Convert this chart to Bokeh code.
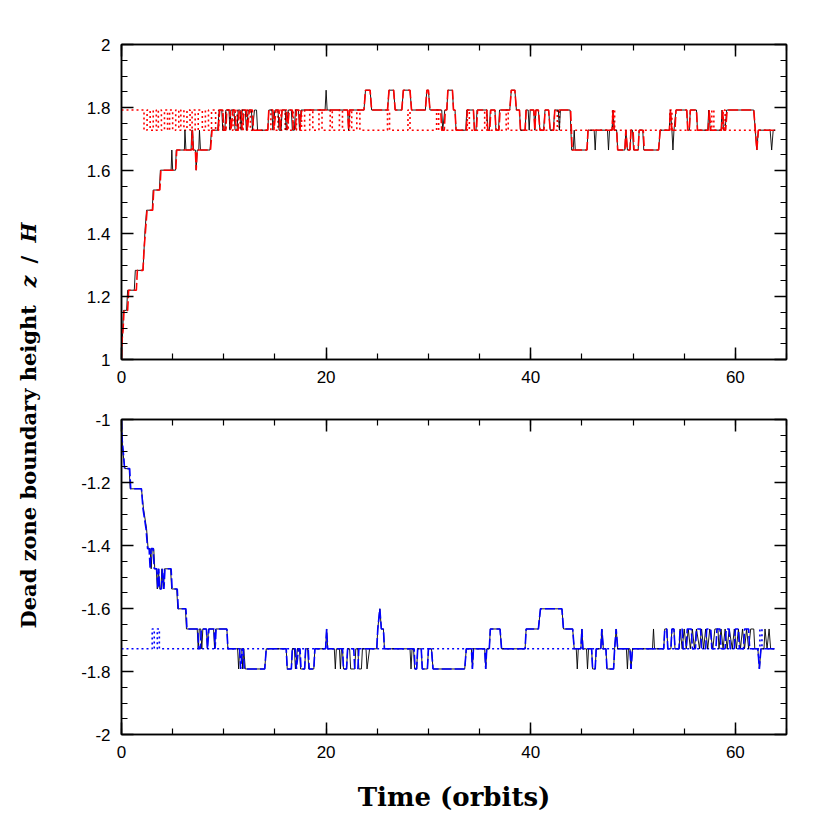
import math
from bokeh.plotting import figure
from bokeh.models import Range1d, LinearAxis, SingleIntervalTicker, CustomJSTickFormatter
from bokeh.layouts import row, column
from bokeh.embed import file_html
from bokeh.resources import INLINE
from bokeh.core.properties import value

# ---------------- data (time in orbits, height z/H) ----------------
top_black = [
    (0.0, 1.0), (0.2, 1.156), (0.5, 1.156), (0.6, 1.22), (1.25, 1.22), (1.35, 1.283), (2.1, 1.283),
    (2.2, 1.347), (2.3, 1.41), (2.45, 1.474), (3.0, 1.474), (3.1, 1.538), (3.7, 1.538), (3.8, 1.601),
    (4.85, 1.601), (4.92, 1.665), (5.0, 1.601), (5.28, 1.601), (5.35, 1.665), (6.15, 1.665), (6.2, 1.728),
    (6.3, 1.665), (6.8, 1.665), (6.87, 1.728), (6.95, 1.728), (7.05, 1.665), (7.22, 1.665), (7.3, 1.601),
    (7.4, 1.665), (7.55, 1.665), (7.62, 1.728), (7.72, 1.665), (8.65, 1.665), (8.8, 1.728), (9.4, 1.728),
    (9.55, 1.792), (9.8, 1.792), (9.9, 1.728), (10.1, 1.728), (10.2, 1.792), (10.5, 1.792), (10.6, 1.728),
    (10.7, 1.792), (11.0, 1.792), (11.1, 1.728), (11.3, 1.728), (11.4, 1.792), (11.6, 1.792), (11.7, 1.728),
    (11.8, 1.792), (12.1, 1.792), (12.2, 1.728), (12.4, 1.792), (12.7, 1.792), (12.8, 1.728), (13.0, 1.792),
    (13.2, 1.792), (13.3, 1.728), (14.3, 1.728), (14.4, 1.792), (14.7, 1.792), (14.8, 1.728), (15.0, 1.792),
    (15.3, 1.792), (15.4, 1.728), (15.6, 1.728), (15.7, 1.792), (16.0, 1.792), (16.1, 1.728), (16.3, 1.792),
    (16.6, 1.792), (16.7, 1.728), (16.9, 1.728), (17.0, 1.792), (17.3, 1.792), (17.4, 1.728), (17.55, 1.792),
    (19.9, 1.792), (20.0, 1.855), (20.1, 1.792), (22.1, 1.792), (22.2, 1.728), (22.3, 1.792), (23.7, 1.792),
    (23.85, 1.855), (24.3, 1.855), (24.45, 1.792), (26.0, 1.792), (26.15, 1.855), (26.6, 1.855), (26.75, 1.792),
    (27.4, 1.792), (27.55, 1.855), (28.2, 1.855), (28.35, 1.792), (29.7, 1.792), (29.85, 1.855), (30.0, 1.855),
    (30.15, 1.792), (31.3, 1.792), (31.4, 1.728), (31.6, 1.792), (31.8, 1.792), (31.9, 1.855), (32.35, 1.855),
    (32.45, 1.792), (32.6, 1.792), (32.7, 1.728), (33.65, 1.728), (33.75, 1.792), (34.4, 1.792), (34.5, 1.728),
    (34.65, 1.728), (34.75, 1.792), (35.7, 1.792), (35.8, 1.728), (35.95, 1.728), (36.05, 1.792), (36.5, 1.792),
    (36.6, 1.728), (36.85, 1.728), (36.95, 1.792), (37.95, 1.792), (38.1, 1.855), (38.45, 1.855), (38.6, 1.792),
    (38.9, 1.792), (39.0, 1.728), (39.45, 1.728), (39.55, 1.792), (39.75, 1.792), (39.85, 1.728), (39.95, 1.792),
    (40.3, 1.792), (40.4, 1.728), (40.5, 1.792), (40.75, 1.792), (40.9, 1.728), (41.25, 1.728), (41.4, 1.792),
    (41.75, 1.792), (41.9, 1.728), (42.2, 1.728), (42.35, 1.792), (42.7, 1.792), (42.8, 1.728), (42.9, 1.792),
    (43.85, 1.792), (44.0, 1.665), (44.15, 1.665), (44.25, 1.728), (44.35, 1.665), (45.5, 1.665), (45.6, 1.728),
    (46.2, 1.728), (46.3, 1.665), (46.4, 1.728), (47.5, 1.728), (47.6, 1.665), (47.7, 1.728), (47.95, 1.728),
    (48.05, 1.792), (48.15, 1.728), (48.4, 1.728), (48.5, 1.665), (49.2, 1.665), (49.3, 1.728), (49.45, 1.665),
    (49.7, 1.665), (49.8, 1.728), (49.95, 1.728), (50.05, 1.665), (50.5, 1.665), (50.6, 1.728), (50.95, 1.728),
    (51.05, 1.665), (52.5, 1.665), (52.65, 1.728), (53.55, 1.728), (53.65, 1.792), (53.8, 1.728), (53.9, 1.665),
    (54.0, 1.728), (54.2, 1.792), (55.25, 1.792), (55.35, 1.728), (55.5, 1.728), (55.6, 1.792), (56.2, 1.792),
    (56.3, 1.728), (57.3, 1.728), (57.4, 1.792), (57.55, 1.728), (58.6, 1.728), (58.7, 1.792), (58.85, 1.728),
    (59.0, 1.728), (59.15, 1.792), (61.8, 1.792), (61.95, 1.728), (62.1, 1.665), (62.25, 1.728), (63.4, 1.728),
    (63.55, 1.665), (63.7, 1.728), (63.9, 1.728),
]

top_red = [
    (0.0, 1.0), (0.05, 1.06), (0.15, 1.093), (0.25, 1.156), (0.6, 1.156), (0.7, 1.22), (1.45, 1.22),
    (1.55, 1.283), (2.1, 1.283), (2.2, 1.347), (2.35, 1.41), (2.5, 1.474), (3.05, 1.474), (3.15, 1.538),
    (3.75, 1.538), (3.85, 1.601), (5.3, 1.601), (5.4, 1.665), (6.85, 1.665), (6.92, 1.728), (7.0, 1.665),
    (7.22, 1.665), (7.3, 1.601), (7.4, 1.665), (8.7, 1.665), (8.85, 1.728), (9.45, 1.728), (9.6, 1.792),
    (9.9, 1.792), (10.0, 1.728), (10.2, 1.728), (10.3, 1.792), (10.6, 1.792), (10.7, 1.728), (10.9, 1.792),
    (11.1, 1.792), (11.2, 1.728), (11.4, 1.728), (11.5, 1.792), (11.7, 1.792), (11.8, 1.728), (12.0, 1.792),
    (12.2, 1.792), (12.3, 1.728), (12.5, 1.792), (12.8, 1.792), (12.9, 1.728), (14.3, 1.728), (14.4, 1.792),
    (14.8, 1.792), (14.9, 1.728), (15.1, 1.792), (15.4, 1.792), (15.5, 1.728), (15.7, 1.792), (16.1, 1.792),
    (16.2, 1.728), (16.4, 1.792), (16.7, 1.792), (16.8, 1.728), (17.0, 1.728), (17.1, 1.792), (17.35, 1.792),
    (17.45, 1.728), (17.6, 1.792), (22.1, 1.792), (22.2, 1.728), (22.3, 1.792), (23.7, 1.792), (23.85, 1.855),
    (24.3, 1.855), (24.45, 1.792), (26.0, 1.792), (26.15, 1.855), (26.6, 1.855), (26.75, 1.792), (27.4, 1.792),
    (27.55, 1.855), (28.2, 1.855), (28.35, 1.792), (29.7, 1.792), (29.85, 1.855), (30.0, 1.855), (30.15, 1.792),
    (31.2, 1.792), (31.3, 1.728), (31.55, 1.728), (31.65, 1.792), (31.8, 1.792), (31.9, 1.855), (32.35, 1.855),
    (32.45, 1.792), (32.6, 1.792), (32.7, 1.728), (33.7, 1.728), (33.8, 1.792), (34.4, 1.792), (34.5, 1.728),
    (34.7, 1.728), (34.8, 1.792), (35.7, 1.792), (35.8, 1.728), (36.0, 1.728), (36.1, 1.792), (36.5, 1.792),
    (36.6, 1.728), (36.9, 1.728), (37.0, 1.792), (37.95, 1.792), (38.1, 1.855), (38.45, 1.855), (38.6, 1.792),
    (38.9, 1.792), (39.0, 1.728), (39.45, 1.728), (39.55, 1.792), (40.3, 1.792), (40.4, 1.728), (40.5, 1.792),
    (40.75, 1.792), (40.9, 1.728), (41.3, 1.728), (41.4, 1.792), (41.75, 1.792), (41.9, 1.728), (42.25, 1.728),
    (42.35, 1.792), (43.9, 1.792), (44.05, 1.665), (45.5, 1.665), (45.6, 1.728), (47.95, 1.728), (48.05, 1.792),
    (48.15, 1.728), (48.4, 1.728), (48.5, 1.665), (49.2, 1.665), (49.3, 1.728), (49.45, 1.665), (49.7, 1.665),
    (49.8, 1.728), (50.0, 1.728), (50.1, 1.665), (50.5, 1.665), (50.6, 1.728), (51.0, 1.728), (51.1, 1.665),
    (52.5, 1.665), (52.65, 1.728), (53.55, 1.728), (53.65, 1.792), (53.8, 1.728), (54.1, 1.728), (54.2, 1.792),
    (55.25, 1.792), (55.35, 1.728), (55.5, 1.728), (55.6, 1.792), (56.2, 1.792), (56.3, 1.728), (57.35, 1.728),
    (57.45, 1.792), (57.6, 1.728), (58.65, 1.728), (58.75, 1.792), (58.9, 1.728), (59.05, 1.728), (59.2, 1.792),
    (61.8, 1.792), (61.95, 1.728), (62.1, 1.665), (62.25, 1.728), (63.9, 1.728),
]

top_dotted_t = [0.0, 2.2, 2.5, 2.8, 3.1, 3.4, 3.6, 3.9, 4.2, 4.5, 4.7, 5.0, 5.3, 5.6, 5.8, 6.1, 6.4, 6.7,
                6.9, 7.2, 7.5, 7.9, 8.2, 8.5, 8.8, 9.2, 9.5, 9.9, 10.2, 10.6, 10.9, 11.3, 11.6, 11.9, 12.3,
                12.6, 14.6, 14.9, 15.3, 15.6, 16.0, 16.3, 16.8, 17.1, 17.6, 17.9, 18.4, 18.7, 19.3, 19.6,
                20.4, 20.6, 21.3, 21.6, 22.3, 22.5, 23.0, 23.3, 26.0, 26.2, 28.0, 28.2, 30.8, 31.0, 33.8,
                34.0, 35.5, 35.7, 37.6, 37.8, 42.6, 42.8, 48.0, 48.2, 53.6, 53.8, 57.7, 57.9, 58.8, 59.0,
                63.9]
top_dotted_z = [1.792, 1.728, 1.792, 1.728, 1.792, 1.728, 1.792, 1.728, 1.792, 1.728, 1.792, 1.728, 1.792,
                1.728, 1.792, 1.728, 1.792, 1.728, 1.792, 1.728, 1.792, 1.728, 1.792, 1.728, 1.792, 1.728,
                1.792, 1.728, 1.792, 1.728, 1.792, 1.728, 1.792, 1.728, 1.792, 1.728, 1.792, 1.728, 1.792,
                1.728, 1.792, 1.728, 1.792, 1.728, 1.792, 1.728, 1.792, 1.728, 1.792, 1.728, 1.792, 1.728,
                1.792, 1.728, 1.792, 1.728, 1.792, 1.728, 1.792, 1.728, 1.792, 1.728, 1.792, 1.728, 1.792,
                1.728, 1.792, 1.728, 1.792, 1.728, 1.792, 1.728, 1.792, 1.728, 1.792, 1.728, 1.792, 1.728,
                1.792, 1.728, 1.728]

bot_black = [
    (0.0, -1.0), (0.1, -1.093), (0.33, -1.156), (0.75, -1.156), (0.85, -1.22), (1.95, -1.22), (2.15, -1.283),
    (2.45, -1.347), (2.6, -1.41), (2.8, -1.41), (2.9, -1.474), (3.0, -1.41), (3.15, -1.41), (3.25, -1.474),
    (3.4, -1.474), (3.5, -1.538), (3.6, -1.474), (3.75, -1.538), (3.85, -1.538), (3.95, -1.474), (4.1, -1.538),
    (4.2, -1.474), (4.8, -1.474), (4.9, -1.538), (5.4, -1.538), (5.5, -1.601), (6.25, -1.601), (6.35, -1.665),
    (7.4, -1.665), (7.5, -1.728), (7.6, -1.665), (7.75, -1.665), (7.85, -1.728), (7.95, -1.665), (8.3, -1.665),
    (8.4, -1.728), (8.5, -1.665), (9.0, -1.665), (9.1, -1.728), (9.2, -1.665), (10.3, -1.665), (10.4, -1.728),
    (11.35, -1.728), (11.45, -1.792), (11.55, -1.728), (11.75, -1.728), (11.85, -1.792), (11.95, -1.728),
    (12.1, -1.792), (14.0, -1.792), (14.15, -1.728), (16.1, -1.728), (16.2, -1.792), (16.6, -1.792),
    (16.7, -1.728), (16.9, -1.728), (17.0, -1.792), (17.2, -1.728), (17.4, -1.728), (17.5, -1.792),
    (17.9, -1.792), (18.0, -1.728), (18.2, -1.728), (18.3, -1.792), (18.8, -1.792), (18.9, -1.728),
    (19.95, -1.728), (20.05, -1.665), (20.15, -1.728), (20.8, -1.728), (20.9, -1.792), (21.0, -1.728),
    (21.3, -1.728), (21.4, -1.792), (21.5, -1.728), (21.6, -1.728), (21.7, -1.792), (22.0, -1.792),
    (22.1, -1.728), (22.3, -1.728), (22.4, -1.792), (22.8, -1.792), (22.9, -1.728), (23.1, -1.728),
    (23.2, -1.792), (23.45, -1.792), (23.55, -1.728), (23.9, -1.728), (24.0, -1.792), (24.25, -1.728),
    (24.95, -1.728), (25.05, -1.665), (25.25, -1.601), (25.4, -1.665), (25.6, -1.665), (25.7, -1.728),
    (28.2, -1.728), (28.3, -1.792), (28.4, -1.728), (28.55, -1.728), (28.65, -1.792), (28.85, -1.792),
    (28.95, -1.728), (29.3, -1.728), (29.4, -1.792), (29.9, -1.792), (30.0, -1.728), (30.3, -1.728),
    (30.45, -1.792), (33.55, -1.792), (33.7, -1.728), (34.2, -1.728), (34.3, -1.792), (34.4, -1.728),
    (35.5, -1.728), (35.6, -1.792), (35.7, -1.728), (35.95, -1.728), (36.05, -1.665), (37.0, -1.665),
    (37.15, -1.728), (39.45, -1.728), (39.55, -1.665), (40.75, -1.665), (40.95, -1.601), (43.05, -1.601),
    (43.2, -1.665), (44.1, -1.665), (44.25, -1.728), (44.45, -1.728), (44.55, -1.792), (44.65, -1.728),
    (44.9, -1.728), (45.0, -1.665), (45.1, -1.728), (45.45, -1.728), (45.55, -1.792), (45.65, -1.728),
    (45.95, -1.728), (46.05, -1.792), (46.3, -1.792), (46.4, -1.728), (46.85, -1.728), (46.95, -1.665),
    (47.1, -1.728), (47.35, -1.728), (47.45, -1.792), (48.1, -1.792), (48.2, -1.728), (48.35, -1.665),
    (48.5, -1.728), (49.35, -1.728), (49.45, -1.792), (49.55, -1.728), (49.7, -1.728), (49.8, -1.792),
    (49.95, -1.728), (51.9, -1.728), (52.0, -1.665), (52.1, -1.728), (53.0, -1.728), (53.1, -1.665),
    (53.3, -1.665), (53.4, -1.728), (53.7, -1.728), (53.8, -1.665), (54.0, -1.665), (54.1, -1.728),
    (54.5, -1.728), (54.6, -1.665), (54.8, -1.728), (55.0, -1.665), (55.2, -1.728), (55.4, -1.665),
    (55.6, -1.728), (55.8, -1.665), (56.0, -1.728), (56.2, -1.665), (56.5, -1.728), (56.7, -1.665),
    (56.9, -1.728), (57.1, -1.665), (57.3, -1.728), (57.5, -1.665), (57.8, -1.728), (58.0, -1.665),
    (58.3, -1.665), (58.4, -1.728), (58.6, -1.665), (58.8, -1.728), (59.0, -1.665), (59.2, -1.728),
    (59.4, -1.665), (59.7, -1.728), (59.9, -1.665), (60.1, -1.728), (60.3, -1.665), (60.5, -1.728),
    (60.7, -1.665), (60.9, -1.728), (61.1, -1.665), (61.3, -1.728), (61.5, -1.665), (61.8, -1.665),
    (61.9, -1.728), (62.2, -1.728), (62.35, -1.792), (62.5, -1.728), (62.8, -1.728), (62.9, -1.665),
    (63.1, -1.728), (63.3, -1.665), (63.45, -1.728), (63.8, -1.728),
]

bot_blue = [
    (0.0, -1.0), (0.05, -1.06), (0.15, -1.093), (0.3, -1.156), (0.8, -1.156), (0.9, -1.22), (1.95, -1.22),
    (2.1, -1.283), (2.4, -1.347), (2.55, -1.41), (2.7, -1.41), (2.8, -1.474), (2.9, -1.41), (3.1, -1.41),
    (3.2, -1.474), (3.45, -1.474), (3.55, -1.538), (3.65, -1.474), (3.7, -1.538), (3.9, -1.538),
    (4.0, -1.474), (4.15, -1.538), (4.25, -1.474), (4.85, -1.474), (4.95, -1.538), (5.45, -1.538),
    (5.55, -1.601), (6.3, -1.601), (6.4, -1.665), (7.45, -1.665), (7.55, -1.728), (7.7, -1.728),
    (7.8, -1.665), (8.3, -1.665), (8.4, -1.728), (8.55, -1.665), (9.05, -1.665), (9.15, -1.728),
    (9.25, -1.665), (10.3, -1.665), (10.4, -1.728), (11.55, -1.728), (11.65, -1.792), (11.8, -1.728),
    (11.9, -1.728), (12.0, -1.792), (14.0, -1.792), (14.15, -1.728), (16.1, -1.728), (16.2, -1.792),
    (16.6, -1.792), (16.7, -1.728), (17.0, -1.728), (17.1, -1.792), (17.3, -1.728), (17.45, -1.728),
    (17.55, -1.792), (17.9, -1.792), (18.0, -1.728), (18.25, -1.728), (18.35, -1.792), (18.8, -1.792),
    (18.9, -1.728), (19.95, -1.728), (20.05, -1.665), (20.15, -1.728), (21.6, -1.728), (21.7, -1.792),
    (22.0, -1.792), (22.1, -1.728), (22.7, -1.728), (22.8, -1.792), (23.1, -1.792), (23.2, -1.728),
    (24.95, -1.728), (25.05, -1.665), (25.25, -1.601), (25.4, -1.665), (25.6, -1.665), (25.7, -1.728),
    (28.6, -1.728), (28.7, -1.792), (28.85, -1.792), (28.95, -1.728), (29.3, -1.728), (29.4, -1.792),
    (29.9, -1.792), (30.0, -1.728), (30.3, -1.728), (30.45, -1.792), (33.55, -1.792), (33.7, -1.728),
    (34.2, -1.728), (34.3, -1.792), (34.4, -1.728), (35.5, -1.728), (35.6, -1.792), (35.7, -1.728),
    (35.95, -1.728), (36.05, -1.665), (37.0, -1.665), (37.15, -1.728), (39.45, -1.728), (39.55, -1.665),
    (40.75, -1.665), (40.95, -1.601), (43.05, -1.601), (43.2, -1.665), (44.1, -1.665), (44.25, -1.728),
    (44.9, -1.728), (45.0, -1.665), (45.1, -1.728), (45.95, -1.728), (46.05, -1.792), (46.3, -1.792),
    (46.4, -1.728), (46.85, -1.728), (46.95, -1.665), (47.1, -1.728), (47.35, -1.728), (47.45, -1.792),
    (48.1, -1.792), (48.2, -1.728), (48.35, -1.665), (48.5, -1.728), (49.7, -1.728), (49.8, -1.792),
    (49.95, -1.728), (53.0, -1.728), (53.1, -1.665), (53.3, -1.665), (53.4, -1.728), (53.7, -1.728),
    (53.8, -1.665), (54.0, -1.665), (54.1, -1.728), (54.5, -1.728), (54.6, -1.665), (54.8, -1.665),
    (54.9, -1.728), (55.2, -1.728), (55.3, -1.665), (55.7, -1.665), (55.8, -1.728), (56.1, -1.728),
    (56.2, -1.665), (56.6, -1.665), (56.7, -1.728), (57.1, -1.728), (57.2, -1.665), (57.6, -1.665),
    (57.7, -1.728), (58.1, -1.728), (58.2, -1.665), (58.5, -1.665), (58.6, -1.728), (59.0, -1.728),
    (59.1, -1.665), (59.4, -1.665), (59.5, -1.728), (59.9, -1.728), (60.0, -1.665), (60.3, -1.665),
    (60.4, -1.728), (60.8, -1.728), (60.9, -1.665), (61.3, -1.665), (61.4, -1.728), (62.2, -1.728),
    (62.35, -1.792), (62.5, -1.728), (63.8, -1.728),
]

bot_dotted_t = [0.0, 3.0, 3.2, 3.5, 3.7, 62.4, 62.6, 63.9]
bot_dotted_z = [-1.728, -1.665, -1.728, -1.665, -1.728, -1.665, -1.728, -1.728]

x_range = (0, 65)
top_y_range = (1, 2)
bot_y_range = (-2, -1)

# ---------------- styling helpers ----------------
TICK_FONT = "Liberation Sans"
LABEL_FONT = "DejaVu Serif"

yfmt_code = """
var r = Math.round(tick);
if (Math.abs(tick - r) < 1e-6) { return r.toString(); }
return tick.toFixed(1);
"""


def style_axis(ax, interval, show_labels, yaxis=False):
    ax.ticker = SingleIntervalTicker(interval=interval, num_minor_ticks=4)
    ax.major_tick_in = 12
    ax.major_tick_out = 0
    ax.minor_tick_in = 6
    ax.minor_tick_out = 0
    ax.major_tick_line_width = 1.5
    ax.minor_tick_line_width = 1.2
    ax.axis_line_width = 1.5
    ax.axis_line_color = "black"
    ax.major_tick_line_color = "black"
    ax.minor_tick_line_color = "black"
    if show_labels:
        ax.major_label_text_font = TICK_FONT
        ax.major_label_text_font_size = "17px"
        ax.major_label_text_color = "black"
        ax.major_label_standoff = 11
        if yaxis:
            ax.formatter = CustomJSTickFormatter(code=yfmt_code)
    else:
        ax.formatter = CustomJSTickFormatter(code="return '';")
        ax.major_label_text_font_size = "0px"
        ax.major_label_standoff = 0


def make_panel(yr, bottom_border, top_border):
    p = figure(frame_width=665, frame_height=315,
               x_range=Range1d(*x_range), y_range=Range1d(*yr),
               output_backend="svg", toolbar_location=None,
               min_border_left=71, min_border_right=20,
               min_border_top=top_border, min_border_bottom=bottom_border)
    p.xgrid.visible = False
    p.ygrid.visible = False
    p.outline_line_color = "black"
    p.outline_line_width = 1.5
    p.outline_line_alpha = 1.0
    p.background_fill_color = "white"
    p.border_fill_color = "white"
    style_axis(p.below[0], 20, True)
    style_axis(p.left[0], 0.2, True, yaxis=True)
    ax_top = LinearAxis()
    style_axis(ax_top, 20, False)
    p.add_layout(ax_top, "above")
    ax_right = LinearAxis()
    style_axis(ax_right, 0.2, False)
    p.add_layout(ax_right, "right")
    return p


p_top = make_panel(top_y_range, 28, 44)
p_bot = make_panel(bot_y_range, 40, 32)

tbt, tbz = zip(*top_black)
trt, trz = zip(*top_red)
bbt, bbz = zip(*bot_black)
bct, bcz = zip(*bot_blue)

p_top.step(top_dotted_t, top_dotted_z, mode="after", line_color="red", line_width=1.6, line_dash="2 3")
p_top.line(list(tbt), list(tbz), line_color="black", line_width=0.9)
p_top.line(list(trt), list(trz), line_color="red", line_width=1.6, line_dash="10 3")

p_bot.step(bot_dotted_t, bot_dotted_z, mode="after", line_color="blue", line_width=1.6, line_dash="2 3")
p_bot.line(list(bbt), list(bbz), line_color="black", line_width=0.9)
p_bot.line(list(bct), list(bcz), line_color="blue", line_width=1.6, line_dash="10 3")

xa = p_bot.below[0]
xa.axis_label = "Time (orbits)"
xa.axis_label_text_font = LABEL_FONT
xa.axis_label_text_font_style = "bold"
xa.axis_label_text_font_size = "26px"
xa.axis_label_text_color = "black"
xa.axis_label_standoff = 21

# ---------------- shared y label ----------------
LH = 814
lf = figure(width=50, height=LH, x_range=Range1d(0, 50), y_range=Range1d(0, LH),
            output_backend="svg", toolbar_location=None, min_border=0,
            x_axis_type=None, y_axis_type=None)
lf.xgrid.visible = False
lf.ygrid.visible = False
lf.outline_line_color = None

pieces = [("Dead zone boundary height", "bold", 186),
          ("z", "bold italic", 527),
          ("/", "bold", 551),
          ("H", "bold italic", 572)]
for txt, style, ypos in pieces:
    lf.text(x=[28], y=[ypos], text=[txt], angle=math.pi / 2,
            text_align="left", text_baseline="middle",
            text_font=value(LABEL_FONT), text_font_style=style,
            text_font_size="21px", text_color="black")

layout = row(lf, column(p_top, p_bot))
open("out.html", "w").write(file_html(layout, INLINE))
